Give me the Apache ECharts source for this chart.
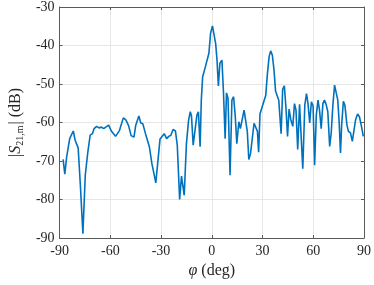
<!DOCTYPE html>
<html><head><meta charset="utf-8">
<script src="https://cdn.jsdelivr.net/npm/echarts@6/dist/echarts.min.js"></script>
<style>html,body{margin:0;padding:0;background:#fff}#c{width:374px;height:285px}</style>
</head><body><div id="c"></div>
<script>
const phi = [-87.9,-86.9,-85.8,-84.0,-81.9,-80.8,-79.0,-77.7,-76.2,-74.8,-73.4,-71.9,-70.6,-69.6,-68.1,-66.7,-65.2,-63.9,-62.7,-61.0,-59.4,-56.9,-54.6,-52.3,-50.8,-49.2,-47.7,-46.0,-45.0,-44.1,-43.1,-42.0,-40.8,-39.2,-36.9,-35.4,-33.1,-30.6,-28.1,-26.7,-25.4,-24.2,-22.9,-21.5,-20.4,-19.0,-17.9,-16.3,-15.0,-13.7,-12.7,-12.0,-11.0,-10.0,-8.8,-7.9,-6.9,-6.2,-5.4,-4.2,-3.1,-1.7,-0.7,0.4,1.3,2.3,3.1,3.9,4.8,6.0,6.9,7.9,8.7,9.6,10.8,11.9,12.9,13.9,14.8,16.0,16.9,17.9,19.1,20.0,21.0,21.9,22.9,23.8,25.0,25.8,27.0,27.7,28.5,31.0,31.9,32.9,33.9,34.8,35.8,36.8,37.7,38.7,39.6,41.0,41.9,42.9,43.8,44.8,45.7,46.7,47.9,48.9,49.8,50.8,51.9,52.9,53.8,55.0,56.0,56.9,57.9,58.9,59.9,60.8,61.8,62.8,63.7,64.7,65.7,66.6,67.6,68.6,69.7,70.6,71.6,72.6,73.5,74.5,75.3,76.1,76.8,77.8,78.7,79.9,80.8,82.0,83.1,84.1,85.0,86.2,87.3,88.5,89.6];
const s21 = [-69.6,-73.4,-68.9,-64.2,-62.2,-64.6,-66.6,-76.3,-88.9,-73.7,-68.1,-63.3,-62.9,-61.6,-61.0,-61.4,-61.2,-61.6,-61.2,-60.7,-62.2,-63.6,-62.1,-58.8,-59.3,-60.8,-63.4,-63.8,-60.8,-60.3,-58.3,-60.1,-60.3,-62.9,-66.3,-70.7,-75.7,-64.3,-62.9,-64.2,-63.6,-63.3,-61.8,-62.2,-65.9,-80.0,-73.9,-78.9,-65.5,-59.4,-57.2,-58.3,-65.9,-65.6,-58.1,-57.2,-66.3,-54.2,-48.1,-46.2,-46.1,-42.0,-36.8,-34.9,-35.1,-39.5,-43.8,-50.5,-44.6,-43.8,-52.0,-64.2,-52.3,-53.7,-73.7,-54.2,-53.3,-58.5,-65.5,-59.8,-61.6,-61.2,-56.8,-57.0,-62.3,-69.6,-68.1,-67.6,-60.2,-59.8,-62.3,-67.7,-57.8,-54.2,-53.0,-47.3,-42.9,-41.4,-42.5,-46.4,-51.8,-51.5,-54.2,-62.9,-51.4,-50.5,-55.8,-63.6,-56.5,-59.2,-61.0,-55.1,-56.8,-67.0,-55.3,-55.3,-72.0,-55.5,-52.5,-55.1,-60.1,-54.6,-55.7,-71.1,-58.1,-54.2,-56.8,-61.6,-55.1,-54.2,-55.3,-57.2,-66.2,-62.8,-55.5,-50.3,-50.7,-54.2,-59.8,-67.9,-60.6,-54.5,-55.5,-60.6,-62.3,-62.7,-64.9,-65.3,-59.3,-57.8,-58.5,-61.0,-63.6];
const xTicks = [-90,-60,-30,0,30,60,90];
const yTicks = [-90,-80,-70,-60,-50,-40,-30];

const font = "'Liberation Serif','DejaVu Serif',serif";
const axisCol = '#5a5a5a';
const txt = '#262626';
const chart = echarts.init(document.getElementById('c'), null, {renderer:'canvas'});
const common = () => ({
  axisLine:{show:true,onZero:false,lineStyle:{color:axisCol,width:1}},
  axisTick:{show:true,inside:true,length:3,lineStyle:{color:axisCol}},
});
chart.setOption({
  animation:false,
  grid:{left:52,right:10,top:7,bottom:47,containLabel:false},
  xAxis:[
    Object.assign({type:'value',min:-90,max:90,interval:30,
      name:'{i|\u03C6}{a| (deg)}',nameLocation:'middle',nameGap:25,
      nameTextStyle:{fontFamily:font,fontSize:16,color:txt,
        rich:{i:{fontFamily:font,fontSize:16,fontStyle:'italic',color:txt},
              a:{fontFamily:font,fontSize:16,color:txt}}},
      axisLabel:{fontFamily:font,fontSize:14,color:txt,margin:6,
        formatter:v=>xTicks.includes(v)?String(v):''},
      splitLine:{show:true,lineStyle:{color:'#e6e6e6',width:1}}},common()),
    Object.assign({type:'value',min:-90,max:90,interval:30,position:'top',
      axisLabel:{show:false},splitLine:{show:false}},common())
  ],
  yAxis:[
    Object.assign({type:'value',min:-90,max:-30,interval:10,
      name:'{a||}{i|S}{b|21,m}{a|| (dB)}',nameLocation:'middle',nameGap:32,
      nameTextStyle:{fontFamily:font,fontSize:16,color:txt,
        rich:{a:{fontFamily:font,fontSize:16,color:txt},
              i:{fontFamily:font,fontSize:16,fontStyle:'italic',color:txt},
              b:{fontFamily:font,fontSize:10,color:txt,padding:[8,1,0,0]}}},
      axisLabel:{fontFamily:font,fontSize:14,color:txt,margin:5,
        formatter:v=>yTicks.includes(v)?String(v):''},
      splitLine:{show:true,lineStyle:{color:'#e6e6e6',width:1}}},common()),
    Object.assign({type:'value',min:-90,max:-30,interval:10,position:'right',
      axisLabel:{show:false},splitLine:{show:false}},common())
  ],
  series:[{type:'line',data:phi.map((x,i)=>[x,s21[i]]),showSymbol:false,
    lineStyle:{color:'#0072BD',width:1.6},itemStyle:{color:'#0072BD'}}]
});
</script></body></html>
